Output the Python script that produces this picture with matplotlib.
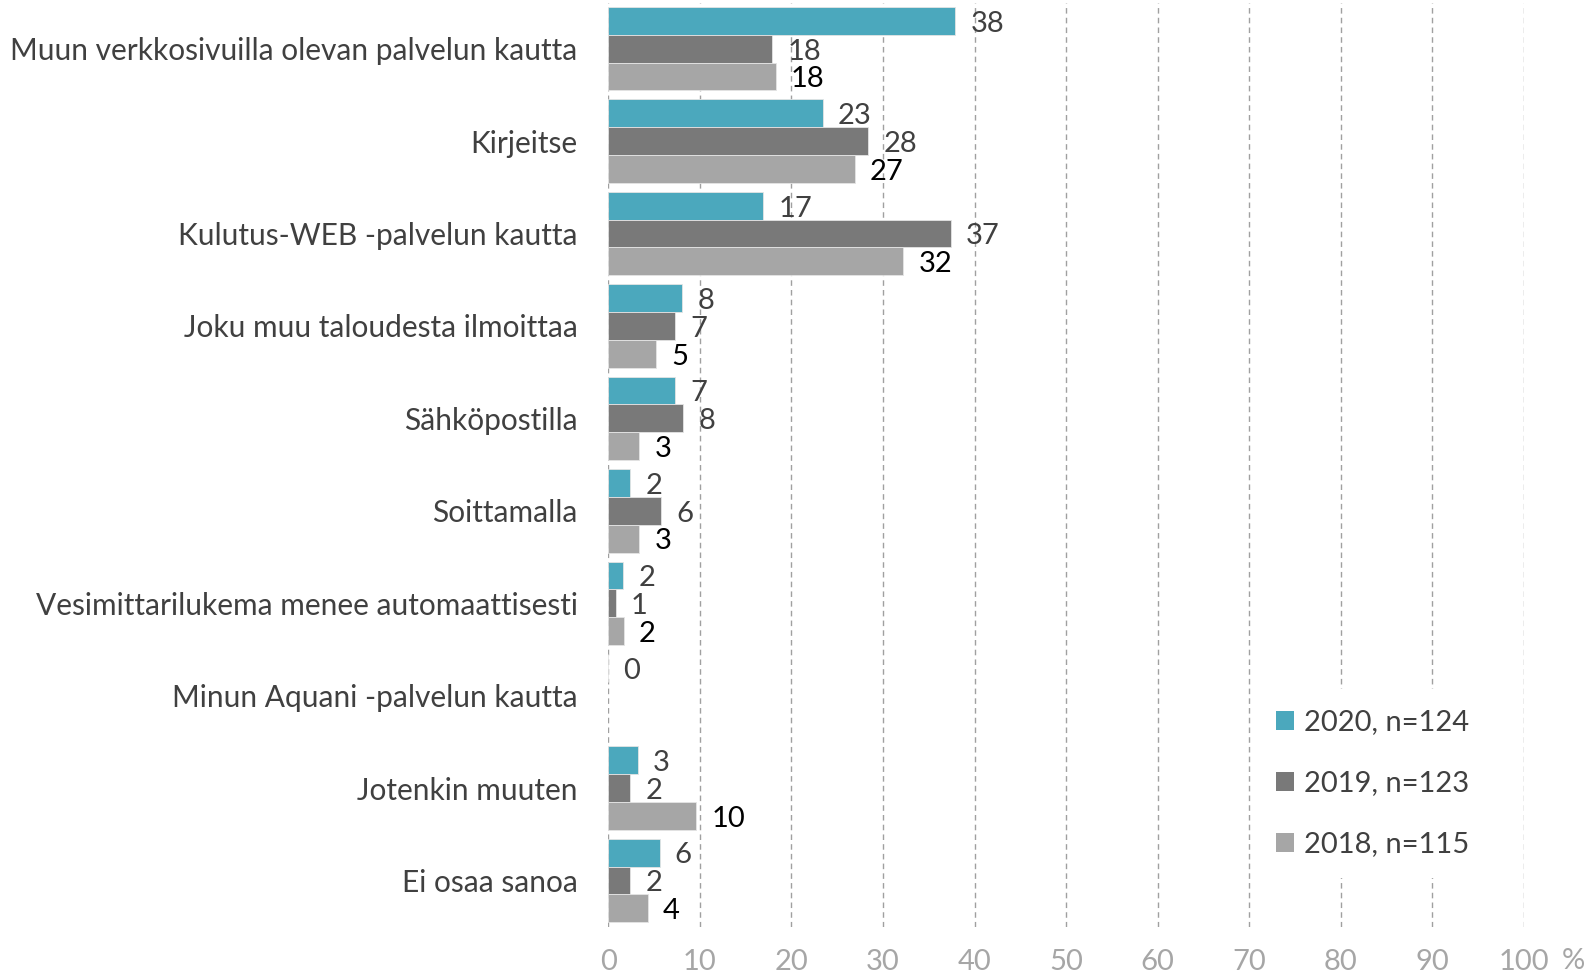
import numpy as np
import matplotlib
matplotlib.use( 'Agg' )
import matplotlib.pyplot as plt
from matplotlib.patches import Patch


categories = [ 'Muun verkkosivuilla olevan palvelun kautta',
               'Kirjeitse',
               'Kulutus-WEB -palvelun kautta',
               'Joku muu taloudesta ilmoittaa',
               'Sähköpostilla',
               'Soittamalla',
               'Vesimittarilukema menee automaattisesti',
               'Minun Aquani -palvelun kautta',
               'Jotenkin muuten',
               'Ei osaa sanoa' ]

series_names = [ '2020, n=124', '2019, n=123', '2018, n=115' ]

values_2020 = [ 37.9, 23.4, 16.9, 8.1, 7.3, 2.4, 1.6, 0.0, 3.2, 5.6 ]
values_2019 = [ 17.9, 28.4, 37.4, 7.3, 8.2, 5.8, 0.8, np.nan, 2.4, 2.4 ]
values_2018 = [ 18.3, 26.9, 32.2, 5.2, 3.4, 3.4, 1.7, np.nan, 9.6, 4.3 ]

x_ticks = [ 0, 10, 20, 30, 40, 50, 60, 70, 80, 90, 100 ]


colors = [ '#4BA8BD', '#797979', '#A6A6A6' ]
label_colors = [ '#404040', '#404040', '#000000' ]

plt.rcParams[ 'font.family' ] = [ 'Lato', 'DejaVu Sans' ]
fs = 21

fig = plt.figure( figsize = ( 15.89, 9.73 ), dpi = 100 )
ax = fig.add_axes( [ 0.3828, 0.0476, 0.5762, 0.9498 ] )

y = np.arange( len( categories ) )
bar_h = 0.301
offsets = [ -bar_h, 0, bar_h ]
all_values = [ values_2020, values_2019, values_2018 ]

# vertical dashed grid, drawn under the bars
for xt in x_ticks :
	ax.axvline( xt, color = '#A0A0A0', lw = 1, ls = ( 0, ( 4, 3 ) ), zorder = 0 )

for k in range( 3 ) :
	vals = np.array( all_values[k], dtype = float )
	ax.barh( y + offsets[k], vals, height = bar_h, color = colors[k],
			 edgecolor = '#E4E4E4', linewidth = 0.6, zorder = 2 )

	for yy, v in zip( y + offsets[k], vals ) :
		if np.isnan( v ) :
			continue
		ax.annotate( '%.0f' % v, xy = ( v, yy ), xytext = ( 11, -2 ),
					 textcoords = 'offset points', va = 'center', ha = 'left',
					 fontsize = fs, color = label_colors[k], zorder = 3 )

ax.set_xlim( 0, 100 )
ax.set_ylim( len( categories ) - 0.5, -0.5 )

ax.set_yticks( y )
ax.set_yticklabels( categories, fontsize = 21.5, color = '#404040' )
ax.set_xticks( x_ticks )
ax.set_xticklabels( [ str( t ) for t in x_ticks ], fontsize = fs, color = '#A6A6A6' )
ax.tick_params( axis = 'y', length = 0, pad = 22 )
ax.tick_params( axis = 'x', length = 0, pad = 16 )

for s in ax.spines.values() :
	s.set_visible( False )

fig.text( 1573 / 1589, 1 - 961 / 973, '%', fontsize = fs, color = '#A6A6A6',
		  ha = 'center', va = 'center' )

handles = [ Patch( facecolor = c ) for c in colors ]
leg = ax.legend( handles, series_names, loc = 'center',
				 bbox_to_anchor = ( 0.835, 0.155 ), fontsize = fs,
				 frameon = True, facecolor = 'white', edgecolor = 'none',
				 framealpha = 1, handlelength = 0.62, handleheight = 0.62,
				 handletextpad = 0.35, labelspacing = 1.2, borderpad = 0.7 )
for t in leg.get_texts() :
	t.set_color( '#404040' )

fig.savefig( 'out.png', dpi = 100 )
